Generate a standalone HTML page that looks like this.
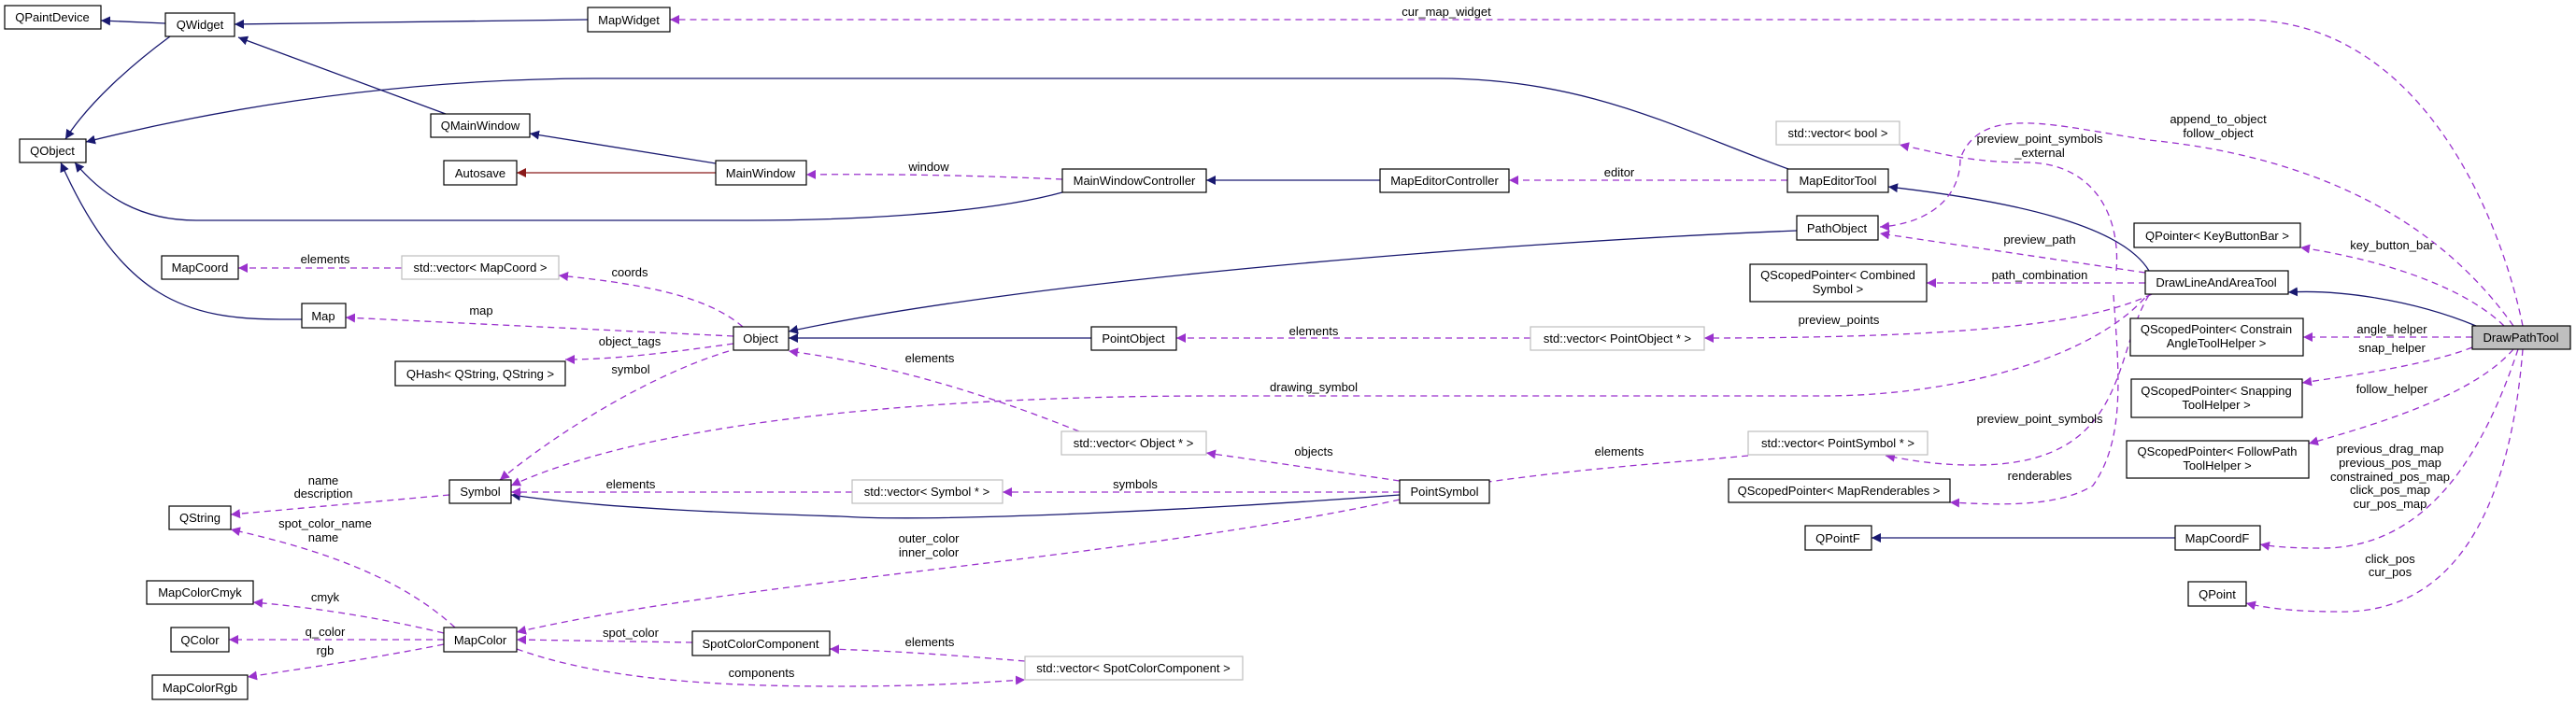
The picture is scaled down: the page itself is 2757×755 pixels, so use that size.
<!DOCTYPE html>
<html><head><meta charset="utf-8"><style>
html,body{margin:0;padding:0;background:#fff;}
svg{display:block;}
text{font-family:"Liberation Sans",sans-serif;font-size:13px;fill:#000;}
.b{fill:#fff;stroke:#000;stroke-width:1.2;}
.g{fill:#fff;stroke:#bfbfbf;stroke-width:1.2;}
.bl{fill:none;stroke:#191970;stroke-width:1.3;}
.rd{fill:none;stroke:#8b1a1a;stroke-width:1.3;}
.pu{fill:none;stroke:#9a32cd;stroke-width:1.3;stroke-dasharray:7,5;}
</style></head><body>
<svg width="2757" height="755" viewBox="0 0 2757 755" xmlns="http://www.w3.org/2000/svg">
<defs>
<marker id="mb" viewBox="0 0 10 10" refX="10" refY="5" markerWidth="10" markerHeight="10" markerUnits="userSpaceOnUse" orient="auto"><path d="M0,0 L10,5 L0,10 z" fill="#191970"/></marker>
<marker id="mp" viewBox="0 0 10 10" refX="10" refY="5" markerWidth="10" markerHeight="10" markerUnits="userSpaceOnUse" orient="auto"><path d="M0,0 L10,5 L0,10 z" fill="#9a32cd"/></marker>
<marker id="mr" viewBox="0 0 10 10" refX="10" refY="5" markerWidth="10" markerHeight="10" markerUnits="userSpaceOnUse" orient="auto"><path d="M0,0 L10,5 L0,10 z" fill="#8b1a1a"/></marker>
</defs>

<!-- blue inheritance edges -->
<g marker-end="url(#mb)">
<path class="bl" d="M177,25 L108,22"/>
<path class="bl" d="M629,21 L251,26"/>
<path class="bl" d="M182,39 C140,70 95,110 70,149"/>
<path class="bl" d="M477,122 L255,40"/>
<path class="bl" d="M766,175 L567,143"/>
<path class="bl" d="M1914,181 C1800,140 1700,84 1540,84 L640,84 C400,84 200,125 92,152"/>
<path class="bl" d="M1137,206 C1050,230 900,236 800,236 L210,236 C150,236 110,210 80,174"/>
<path class="bl" d="M323,342 L300,342 C200,342 130,320 65,174"/>
<path class="bl" d="M1477,193 L1291,193"/>
<path class="bl" d="M2300,290 C2270,240 2150,215 2021,200"/>
<path class="bl" d="M1923,247 C1600,260 1100,300 844,355"/>
<path class="bl" d="M1168,362 L844,362"/>
<path class="bl" d="M1498,530 C1300,545 1000,560 900,553 C800,550 650,545 547,530"/>
<path class="bl" d="M2650,349 C2580,320 2500,310 2449,313"/>
<path class="bl" d="M2328,576 L2003,576"/>
</g>
<path class="rd" marker-end="url(#mr)" d="M766,185 L553,185"/>

<!-- purple dashed edges -->
<g marker-end="url(#mp)">
<path class="pu" d="M2700,349 C2680,250 2600,21 2400,21 L717,21"/>
<path class="pu" d="M1137,192 C1050,188 950,186 863,187"/>
<path class="pu" d="M1913,193 L1615,193"/>
<path class="pu" d="M795,350 C760,320 700,305 598,295"/>
<path class="pu" d="M430,287 L255,287"/>
<path class="pu" d="M785,360 L370,340"/>
<path class="pu" d="M785,368 C700,380 650,385 605,385"/>
<path class="pu" d="M780,376 C700,400 600,460 535,514"/>
<path class="pu" d="M1155,462 C1050,420 950,390 844,376"/>
<path class="pu" d="M1638,362 L1259,362"/>
<path class="pu" d="M2303,315 C2250,340 2150,362 1824,362"/>
<path class="pu" d="M2303,310 C2250,380 2100,424 1950,424 L1300,424 C1000,424 700,450 547,520"/>
<path class="pu" d="M1498,515 L1291,485"/>
<path class="pu" d="M1498,527 L1073,527"/>
<path class="pu" d="M912,527 L547,527"/>
<path class="pu" d="M1871,488 C1800,495 1700,500 1565,520"/>
<path class="pu" d="M2300,316 C2260,380 2280,500 2110,498 C2070,498 2040,492 2018,488"/>
<path class="pu" d="M2262,316 C2268,400 2275,470 2240,520 C2200,545 2130,540 2087,538"/>
<path class="pu" d="M2265,290 C2270,230 2240,175 2170,174 C2110,174 2080,165 2033,155"/>
<path class="pu" d="M2690,349 C2620,250 2500,170 2300,150 C2200,135 2120,110 2098,170 C2098,215 2060,240 2012,243"/>
<path class="pu" d="M2296,292 L2012,250"/>
<path class="pu" d="M2296,303 L2062,303"/>
<path class="pu" d="M2680,349 C2640,310 2560,280 2462,265"/>
<path class="pu" d="M2646,361 L2465,361"/>
<path class="pu" d="M2646,372 C2600,390 2530,400 2464,410"/>
<path class="pu" d="M2690,374 C2650,420 2560,450 2471,475"/>
<path class="pu" d="M2695,374 C2660,480 2600,590 2480,587 C2450,587 2430,585 2419,583"/>
<path class="pu" d="M2700,374 C2690,500 2650,660 2500,655 C2450,655 2420,650 2404,646"/>
<path class="pu" d="M741,688 L553,685"/>
<path class="pu" d="M553,695 C650,730 780,735 900,735 C1000,735 1060,730 1097,728"/>
<path class="pu" d="M1097,708 C1000,700 950,697 888,695"/>
<path class="pu" d="M1498,535 C1200,600 800,620 553,677"/>
<path class="pu" d="M487,672 C430,620 350,590 247,567"/>
<path class="pu" d="M481,530 L247,551"/>
<path class="pu" d="M475,678 C400,660 330,650 271,645"/>
<path class="pu" d="M475,685 L245,685"/>
<path class="pu" d="M475,690 C400,705 330,715 265,725"/>
</g>

<!-- nodes -->
<g>
<rect class="b" x="5" y="6" width="103" height="25"/><text x="56" y="23" text-anchor="middle">QPaintDevice</text>
<rect class="b" x="177" y="14" width="74" height="25"/><text x="214" y="31" text-anchor="middle">QWidget</text>
<rect class="b" x="629" y="8" width="88" height="26"/><text x="673" y="26" text-anchor="middle">MapWidget</text>
<rect class="b" x="461" y="122" width="106" height="25"/><text x="514" y="139" text-anchor="middle">QMainWindow</text>
<rect class="b" x="21" y="149" width="71" height="25"/><text x="56" y="166" text-anchor="middle">QObject</text>
<rect class="b" x="475" y="172" width="78" height="26"/><text x="514" y="190" text-anchor="middle">Autosave</text>
<rect class="b" x="766" y="172" width="97" height="26"/><text x="814" y="190" text-anchor="middle">MainWindow</text>
<rect class="b" x="173" y="274" width="82" height="25"/><text x="214" y="291" text-anchor="middle">MapCoord</text>
<rect class="g" x="430" y="274" width="168" height="25"/><text x="514" y="291" text-anchor="middle">std::vector&lt; MapCoord &gt;</text>
<rect class="b" x="323" y="325" width="47" height="26"/><text x="346" y="343" text-anchor="middle">Map</text>
<rect class="b" x="785" y="350" width="59" height="25"/><text x="814" y="367" text-anchor="middle">Object</text>
<rect class="b" x="423" y="387" width="182" height="26"/><text x="514" y="405" text-anchor="middle">QHash&lt; QString, QString &gt;</text>
<rect class="b" x="481" y="514" width="66" height="25"/><text x="514" y="531" text-anchor="middle">Symbol</text>
<rect class="b" x="181" y="542" width="66" height="25"/><text x="214" y="559" text-anchor="middle">QString</text>
<rect class="b" x="157" y="622" width="114" height="25"/><text x="214" y="639" text-anchor="middle">MapColorCmyk</text>
<rect class="b" x="183" y="672" width="62" height="26"/><text x="214" y="690" text-anchor="middle">QColor</text>
<rect class="b" x="475" y="672" width="78" height="26"/><text x="514" y="690" text-anchor="middle">MapColor</text>
<rect class="b" x="163" y="723" width="102" height="26"/><text x="214" y="741" text-anchor="middle">MapColorRgb</text>
<rect class="b" x="741" y="676" width="147" height="26"/><text x="814" y="694" text-anchor="middle">SpotColorComponent</text>
<rect class="b" x="1137" y="181" width="154" height="25"/><text x="1214" y="198" text-anchor="middle">MainWindowController</text>
<rect class="b" x="1477" y="181" width="138" height="25"/><text x="1546" y="198" text-anchor="middle">MapEditorController</text>
<rect class="b" x="1168" y="350" width="91" height="25"/><text x="1213" y="367" text-anchor="middle">PointObject</text>
<rect class="g" x="1638" y="350" width="186" height="25"/><text x="1731" y="367" text-anchor="middle">std::vector&lt; PointObject * &gt;</text>
<rect class="g" x="1136" y="462" width="155" height="25"/><text x="1213" y="479" text-anchor="middle">std::vector&lt; Object * &gt;</text>
<rect class="g" x="912" y="514" width="161" height="25"/><text x="992" y="531" text-anchor="middle">std::vector&lt; Symbol * &gt;</text>
<rect class="b" x="1498" y="514" width="96" height="25"/><text x="1546" y="531" text-anchor="middle">PointSymbol</text>
<rect class="g" x="1097" y="703" width="233" height="25"/><text x="1213" y="720" text-anchor="middle">std::vector&lt; SpotColorComponent &gt;</text>
<rect class="g" x="1901" y="130" width="132" height="25"/><text x="1967" y="147" text-anchor="middle">std::vector&lt; bool &gt;</text>
<rect class="b" x="1913" y="181" width="108" height="25"/><text x="1967" y="198" text-anchor="middle">MapEditorTool</text>
<rect class="b" x="1923" y="231" width="87" height="26"/><text x="1966" y="249" text-anchor="middle">PathObject</text>
<rect class="b" x="1873" y="283" width="189" height="40"/><text x="1967" y="299" text-anchor="middle">QScopedPointer&lt; Combined</text><text x="1967" y="314" text-anchor="middle">Symbol &gt;</text>
<rect class="b" x="2296" y="290" width="153" height="25"/><text x="2372" y="307" text-anchor="middle">DrawLineAndAreaTool</text>
<rect class="b" x="2284" y="239" width="178" height="26"/><text x="2373" y="257" text-anchor="middle">QPointer&lt; KeyButtonBar &gt;</text>
<rect class="b" x="2280" y="341" width="185" height="40"/><text x="2372" y="357" text-anchor="middle">QScopedPointer&lt; Constrain</text><text x="2372" y="372" text-anchor="middle">AngleToolHelper &gt;</text>
<rect x="2646" y="349" width="105" height="25" fill="#bfbfbf" stroke="#000" stroke-width="1.2"/><text x="2698" y="366" text-anchor="middle">DrawPathTool</text>
<rect class="b" x="2281" y="406" width="183" height="41"/><text x="2372" y="423" text-anchor="middle">QScopedPointer&lt; Snapping</text><text x="2372" y="438" text-anchor="middle">ToolHelper &gt;</text>
<rect class="g" x="1871" y="462" width="192" height="25"/><text x="1967" y="479" text-anchor="middle">std::vector&lt; PointSymbol * &gt;</text>
<rect class="b" x="2276" y="472" width="195" height="40"/><text x="2373" y="488" text-anchor="middle">QScopedPointer&lt; FollowPath</text><text x="2373" y="503" text-anchor="middle">ToolHelper &gt;</text>
<rect class="b" x="1850" y="513" width="237" height="25"/><text x="1968" y="530" text-anchor="middle">QScopedPointer&lt; MapRenderables &gt;</text>
<rect class="b" x="1932" y="563" width="71" height="26"/><text x="1967" y="581" text-anchor="middle">QPointF</text>
<rect class="b" x="2328" y="563" width="91" height="26"/><text x="2373" y="581" text-anchor="middle">MapCoordF</text>
<rect class="b" x="2342" y="623" width="62" height="26"/><text x="2373" y="641" text-anchor="middle">QPoint</text>
</g>

<!-- edge labels -->
<g text-anchor="middle">
<text x="1548" y="17">cur_map_widget</text>
<text x="994" y="183">window</text>
<text x="1733" y="189">editor</text>
<text x="348" y="282">elements</text>
<text x="674" y="296">coords</text>
<text x="515" y="337">map</text>
<text x="674" y="370">object_tags</text>
<text x="675" y="400">symbol</text>
<text x="1406" y="359">elements</text>
<text x="995" y="388">elements</text>
<text x="1406" y="419">drawing_symbol</text>
<text x="1406" y="488">objects</text>
<text x="1733" y="488">elements</text>
<text x="1215" y="523">symbols</text>
<text x="675" y="523">elements</text>
<text x="346" y="519">name</text>
<text x="346" y="533">description</text>
<text x="348" y="565">spot_color_name</text>
<text x="346" y="580">name</text>
<text x="994" y="581">outer_color</text>
<text x="994" y="596">inner_color</text>
<text x="348" y="644">cmyk</text>
<text x="348" y="681">q_color</text>
<text x="348" y="701">rgb</text>
<text x="675" y="682">spot_color</text>
<text x="815" y="725">components</text>
<text x="995" y="692">elements</text>
<text x="2374" y="132">append_to_object</text>
<text x="2374" y="147">follow_object</text>
<text x="2183" y="153">preview_point_symbols</text>
<text x="2183" y="168">_external</text>
<text x="2183" y="261">preview_path</text>
<text x="2183" y="299">path_combination</text>
<text x="1968" y="347">preview_points</text>
<text x="2560" y="267">key_button_bar</text>
<text x="2560" y="357">angle_helper</text>
<text x="2560" y="377">snap_helper</text>
<text x="2560" y="421">follow_helper</text>
<text x="2183" y="453">preview_point_symbols</text>
<text x="2183" y="514">renderables</text>
<text x="2558" y="485">previous_drag_map</text>
<text x="2558" y="500">previous_pos_map</text>
<text x="2558" y="515">constrained_pos_map</text>
<text x="2558" y="529">click_pos_map</text>
<text x="2558" y="544">cur_pos_map</text>
<text x="2558" y="603">click_pos</text>
<text x="2558" y="617">cur_pos</text>
</g>
</svg>
</body></html>
